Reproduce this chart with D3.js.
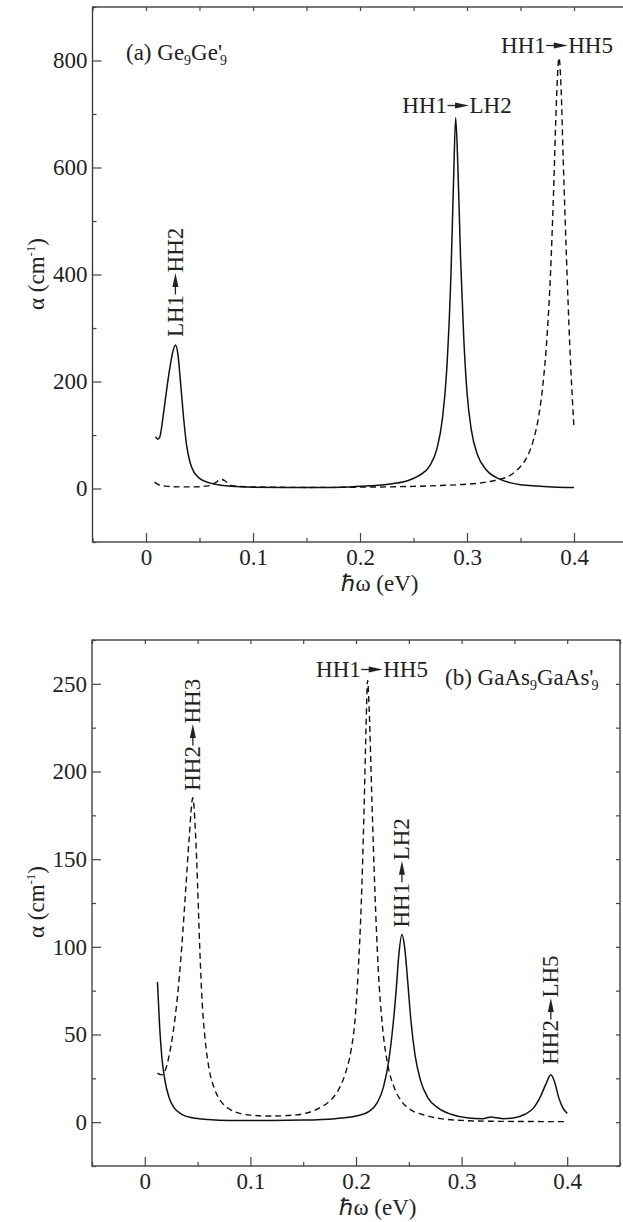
<!DOCTYPE html>
<html>
<head>
<meta charset="UTF-8">
<title>Intersubband absorption</title>
<script src="https://d3js.org/d3.v7.min.js"></script>
<style>
  body { margin: 0; background: #fff; }
  svg { display: block; font-family: "Liberation Serif", "DejaVu Serif", serif; }
  .frame { fill: none; stroke: #333; stroke-width: 1.3; }
  .tick line { stroke: #444; stroke-width: 1.2; }
  .tick text { font-size: 23px; fill: #222; font-family: "Liberation Serif", serif !important; }
  .domain { display: none; }
  .curve { fill: none; stroke: #111; stroke-width: 1.5; }
  .dashed { stroke-dasharray: 6,4; stroke-width: 1.4; }
  .lbl { font-size: 23px; fill: #222; font-family: "Liberation Serif", serif; }
</style>
</head>
<body>
<svg id="chart" width="623" height="1222"></svg>
<script>
// ---- data ----
var xTicks = [0, 0.1, 0.2, 0.3, 0.4];
var xMinor = [-0.05, 0.05, 0.15, 0.25, 0.35, 0.45];
var topYTicks = [0, 200, 400, 600, 800];
var topYMinor = [-100, 100, 300, 500, 700, 900];
var botYTicks = [0, 50, 100, 150, 200, 250];
var botYMinor = [-25, 25, 75, 125, 175, 225, 275];

// (a) Ge9Ge'9, solid
var geSolid = [[0.009,97],[0.011,92],[0.013,97],[0.016,135],[0.019,180],[0.022,222],[0.025,255],[0.0275,268],
  [0.030,248],[0.032,205],[0.035,135],[0.038,80],[0.041,50],[0.045,30],[0.050,19],[0.060,10],[0.070,6],
  [0.080,4],[0.100,2.5],[0.130,2],[0.160,2],[0.190,3],[0.210,5],[0.230,9],[0.245,15],[0.255,24],[0.265,42],
  [0.272,75],[0.277,130],[0.281,220],[0.285,400],[0.2875,580],[0.2894,693],[0.2915,600],[0.294,430],
  [0.297,280],[0.300,180],[0.304,110],[0.310,62],[0.318,35],[0.330,18],[0.340,11],[0.350,7],[0.365,4.5],
  [0.380,3],[0.400,2]];
// (a) dashed
var geDashed = [[0.008,12],[0.012,7],[0.018,4.5],[0.030,3],[0.045,3],[0.058,5],[0.065,11],[0.070,17],
  [0.074,14],[0.078,7],[0.085,4],[0.100,3],[0.150,2],[0.200,2.5],[0.250,4],[0.280,6],[0.300,8],[0.315,11],
  [0.328,16],[0.338,22],[0.347,35],[0.355,55],[0.362,90],[0.367,135],[0.371,195],[0.375,290],[0.378,400],
  [0.381,560],[0.3835,720],[0.386,805],[0.388,745],[0.390,610],[0.393,430],[0.396,270],[0.400,113]];
// (b) GaAs9GaAs'9, solid
var gaSolid = [[0.012,80],[0.014,55],[0.016,38],[0.019,24],[0.023,14],[0.028,8],[0.035,4.5],[0.045,2.5],
  [0.060,1.5],[0.080,1],[0.120,1],[0.150,1.2],[0.180,2],[0.200,3.5],[0.212,6],[0.220,11],[0.226,20],
  [0.231,35],[0.235,55],[0.238,75],[0.2405,95],[0.2435,107],[0.246,100],[0.249,80],[0.252,58],[0.256,38],
  [0.261,24],[0.268,14],[0.278,8],[0.290,4.5],[0.305,2.5],[0.320,2],[0.328,3],[0.333,2.5],[0.340,2],
  [0.350,2.5],[0.360,4.5],[0.368,8],[0.375,15],[0.380,22],[0.3845,27],[0.388,23],[0.392,14],[0.396,8],
  [0.400,5]];
// (b) dashed
var gaDashed = [[0.012,28],[0.016,27],[0.019,29],[0.023,38],[0.027,52],[0.031,72],[0.035,100],[0.039,135],
  [0.042,162],[0.0455,185],[0.048,165],[0.050,135],[0.052,100],[0.054,72],[0.057,48],[0.061,30],[0.066,19],
  [0.072,12],[0.080,7.5],[0.090,5],[0.100,4],[0.120,3.5],[0.140,4],[0.155,5.5],[0.165,8],[0.175,12],
  [0.183,18],[0.190,28],[0.195,40],[0.199,58],[0.202,85],[0.205,125],[0.2075,175],[0.2095,225],[0.211,252],
  [0.2125,235],[0.215,185],[0.218,130],[0.221,88],[0.225,55],[0.230,33],[0.236,20],[0.243,12],[0.252,7],
  [0.265,4],[0.280,2],[0.300,1],[0.330,0.5],[0.400,0.3]];

var svg = d3.select("#chart");

// ---- one panel: frame + inward ticks on all four sides ----
function panel(x, y, yTicks, yMinor) {
  var x0 = x.range()[0], x1 = x.range()[1], y0 = y.range()[0], y1 = y.range()[1];
  var g = svg.append("g");

  g.append("rect").attr("class", "frame")
    .attr("x", x0).attr("y", y1).attr("width", x1 - x0).attr("height", y0 - y1);

  // bottom
  g.append("g").attr("transform", "translate(0," + y0 + ")")
    .call(d3.axisBottom(x).tickValues(xTicks).tickSize(-9).tickPadding(7).tickFormat(d3.format("")));
  g.append("g").attr("transform", "translate(0," + y0 + ")")
    .call(d3.axisBottom(x).tickValues(xMinor).tickSize(-4).tickFormat(""));
  // top
  g.append("g").attr("transform", "translate(0," + y1 + ")")
    .call(d3.axisTop(x).tickValues(xTicks.concat(xMinor)).tickSize(-4).tickFormat(""));
  // left
  g.append("g").attr("transform", "translate(" + x0 + ",0)")
    .call(d3.axisLeft(y).tickValues(yTicks).tickSize(-9).tickPadding(5));
  g.append("g").attr("transform", "translate(" + x0 + ",0)")
    .call(d3.axisLeft(y).tickValues(yMinor).tickSize(-4).tickFormat(""));
  // right
  g.append("g").attr("transform", "translate(" + x1 + ",0)")
    .call(d3.axisRight(y).tickValues(yTicks.concat(yMinor)).tickSize(-4).tickFormat(""));

  g.selectAll("g").attr("font-family", null).attr("font-size", null);
  return g;
}

function curves(g, x, y, solid, dashed) {
  var line = d3.line().x(d => x(d[0])).y(d => y(d[1])).curve(d3.curveMonotoneX);
  g.append("path").attr("class", "curve").attr("d", line(solid));
  g.append("path").attr("class", "curve dashed").attr("d", line(dashed));
}

// "A -> B" label with the filled arrow; horizontal: (cx, baseline); vertical: (column centre, bottom)
function arrowLabel(left, right, cx, cy, vertical) {
  var g = svg.append("g").attr("class", "lbl");
  var t1 = g.append("text").attr("x", 0).attr("y", 0).text(left);
  var w1 = t1.node().getComputedTextLength();
  g.append("line").attr("x1", w1 + 0.5).attr("x2", w1 + 9).attr("y1", -7.5).attr("y2", -7.5)
    .attr("stroke", "#222").attr("stroke-width", 1.3);
  g.append("path").attr("d", "M" + (w1 + 8) + ",-10.5L" + (w1 + 22) + ",-7.5L" + (w1 + 8) + ",-4.5Z")
    .attr("fill", "#222");
  var t2 = g.append("text").attr("x", w1 + 22.5).attr("y", 0).text(right);
  var w = w1 + 22.5 + t2.node().getComputedTextLength();
  if (vertical) g.attr("transform", "translate(" + (cx + 7.5) + "," + cy + ") rotate(-90)");
  else g.attr("transform", "translate(" + (cx - w / 2) + "," + cy + ")");
}

function yTitle(cx, cy) {
  var t = svg.append("text").attr("class", "lbl").attr("text-anchor", "middle")
    .attr("transform", "translate(" + cx + "," + cy + ") rotate(-90)");
  t.append("tspan").text("\u03b1 (cm");
  t.append("tspan").attr("font-size", 13).attr("dy", -9).text("-1");
  t.append("tspan").attr("dy", 9).text(")");
}

function xTitle(cx, cy) {
  svg.append("text").attr("class", "lbl").attr("text-anchor", "middle")
    .attr("x", cx).attr("y", cy).text("\u210f\u03c9 (eV)");
}

function sampleLabel(x0, y0, tag, name) {
  var t = svg.append("text").attr("class", "lbl").attr("x", x0).attr("y", y0);
  t.append("tspan").text(tag + " " + name);
  t.append("tspan").attr("font-size", 14).attr("dy", 5).text("9");
  t.append("tspan").attr("dy", -5).text(name + "'");
  t.append("tspan").attr("font-size", 14).attr("dx", -2).attr("dy", 5).text("9");
}

// ---- panel (a) ----
var xa = d3.scaleLinear().domain([-0.05, 0.45]).range([92.5, 627.5]);
var ya = d3.scaleLinear().domain([-100, 900]).range([542, 7]);
var ga = panel(xa, ya, topYTicks, topYMinor);
curves(ga, xa, ya, geSolid, geDashed);
sampleLabel(126, 60, "(a)", "Ge");
arrowLabel("HH1", "HH5", 557, 53, false);
arrowLabel("HH1", "LH2", 457, 113, false);
arrowLabel("LH1", "HH2", xa(0.0275), ya(268) - 8, true);
yTitle(44, 274);
xTitle(380, 591);

// ---- panel (b) ----
var xb = d3.scaleLinear().domain([-0.05, 0.45]).range([92, 620]);
var yb = d3.scaleLinear().domain([-25, 275]).range([1166, 640]);
var gb = panel(xb, yb, botYTicks, botYMinor);
curves(gb, xb, yb, gaSolid, gaDashed);
sampleLabel(445, 685, "(b)", "GaAs");
arrowLabel("HH1", "HH5", 372, 677, false);
arrowLabel("HH2", "HH3", xb(0.0455), yb(185) - 7, true);
arrowLabel("HH1", "LH2", xb(0.2435), yb(107) - 7, true);
arrowLabel("HH2", "LH5", xb(0.3845), yb(27) - 10, true);
yTitle(44, 902);
xTitle(378, 1215);
</script>
</body>
</html>
